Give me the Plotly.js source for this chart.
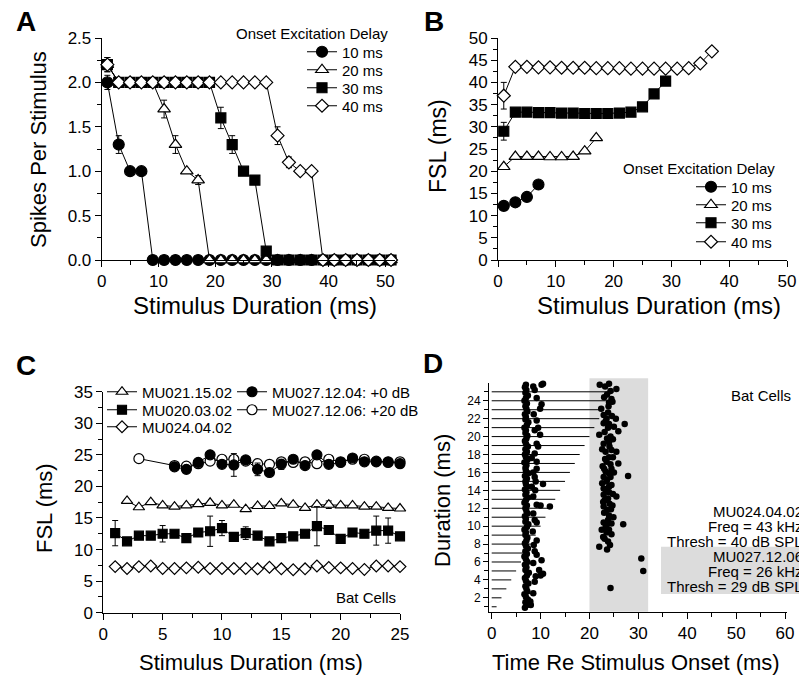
<!DOCTYPE html>
<html><head><meta charset="utf-8">
<script src="https://cdn.plot.ly/plotly-3.0.1.min.js"></script>
<style>html,body{margin:0;padding:0;background:#fff}#chart{width:799px;height:679px}</style>
</head><body><div id="chart"></div>
<script>
// ---------- Panel A: spikes per stimulus ----------
const durA = [1,3,5,7,9,11,13,15,17,19,21,23,25,27,29,31,33,35,37,39,41,43,45,47,49,51];
const spikes10 = [2.0,1.3,1.0,1.0,0,0,0,0,0,0,0,0,0,0,0,0,0,0,0,0,0,0,0,0,0,0];
const spikes20 = [2.2,2.0,2.0,2.0,2.0,1.7,1.3,1.0,0.9,0,0,0,0,0,0,0,0,0,0,0,0,0,0,0,0,0];
const spikes30 = [2.2,2.0,2.0,2.0,2.0,2.0,2.0,2.0,2.0,2.0,1.6,1.3,1.0,0.9,0.1,0,0,0,0,0,0,0,0,0,0,0];
const spikes40 = [2.2,2.0,2.0,2.0,2.0,2.0,2.0,2.0,2.0,2.0,2.0,2.0,2.0,2.0,2.0,1.4,1.1,1.0,1.0,0,0,0,0,0,0,0];
const errA10 = [0.08,0.1,0,0,0,0,0,0,0,0,0,0,0,0,0,0,0,0,0,0,0,0,0,0,0,0];
const errA20 = [0,0,0,0,0,0.1,0.1,0,0.05,0,0,0,0,0,0,0,0,0,0,0,0,0,0,0,0,0];
const errA30 = [0.08,0,0,0,0,0,0,0,0,0,0.12,0.1,0,0,0,0,0,0,0,0,0,0,0,0,0,0];
const errA40 = [0.08,0,0,0,0,0,0,0,0,0,0,0,0,0,0,0.1,0.06,0,0,0,0,0,0,0,0,0];

// ---------- Panel B: first spike latency ----------
const durB10 = [1,3,5,7];
const fsl10 = [12.2,13.0,14.2,17.0];
const durB20 = [1,3,5,7,9,11,13,15,17];
const fsl20 = [21.0,23.3,23.3,23.3,23.2,23.2,23.3,24.5,27.5];
const durB30 = [1,3,5,7,9,11,13,15,17,19,21,23,25,27,29];
const fsl30 = [29.0,33.3,33.3,33.2,33.2,33.1,33.1,33.0,33.0,33.0,33.1,33.3,34.5,37.4,40.3];
const errB30 = [2.0,0,0,0,0,0,0,0,0,0,0,0,0,0,0];
const durB40 = [1,3,5,7,9,11,13,15,17,19,21,23,25,27,29,31,33,35,37];
const fsl40 = [37.0,43.5,43.5,43.4,43.4,43.3,43.3,43.3,43.2,43.2,43.2,43.1,43.1,43.1,43.1,43.1,43.2,44.3,47.0];
const errB40 = [3.0,0,0,0,0,0,0,0,0,0,0,0,0,0,0,0,0,0,0];

// ---------- Panel C: FSL of bat cells ----------
const durC = [1,2,3,4,5,6,7,8,9,10,11,12,13,14,15,16,17,18,19,20,21,22,23,24,25];
const durC021 = [2,3,4,5,6,7,8,9,10,11,12,13,14,15,16,17,18,19,20,21,22,23,24,25];
const fslMU021 = [17.7,16.7,17.5,17.0,16.8,17.0,17.2,17.4,17.0,17.1,16.4,16.9,16.9,17.3,17.1,16.6,17.1,17.1,17.0,17.0,16.8,16.8,16.6,16.5];
const errMU021 = [0,0,0,0,0,0,0,0.2,0,0,0,0,0,0.3,0,0,0,0.6,0,0,0,0,0,0];
const fslMU020 = [12.6,11.3,12.2,12.2,12.5,12.5,11.8,12.7,12.9,13.4,12.0,12.6,12.2,11.3,11.8,12.1,12.5,13.7,13.1,11.7,12.7,12.5,13.0,13.0,12.1];
const errMU020 = [2.0,0,0,0,1.3,0,0,0,2.4,1.2,0,1.0,0,0,0,0,0,3.1,0,0,0,0,2.3,2.0,0];
const fslMU024 = [7.3,7.0,7.3,7.4,7.0,7.0,7.1,7.2,7.0,7.0,7.0,7.0,6.95,7.2,6.95,6.8,6.95,7.4,7.15,7.1,7.0,6.85,7.4,7.4,7.3];
const errMU024 = [0,0,0,0,0,0,0,0,0,0,0,0,0,0,0,0,0,0,0,0,0,0,0.5,0,0];
const durC04 = [6,7,8,9,10,11,12,13,14,15,16,17,18,19,20,21,22,23,24,25];
const fslMU027a = [23.1,22.7,23.8,25.0,23.5,23.4,24.2,22.7,22.2,23.5,24.3,23.3,25.0,23.5,23.8,24.5,23.9,23.9,23.9,23.6];
const errMU027a = [0,0,0,0,0,1.8,0,1.0,0,0.8,0,0,0,0,0,0,0,0,0,0];
const durC06 = [3,6,7,8,9,10,11,12,13,14,15,16,17,18,19,20,21,22,23,24,25];
const fslMU027b = [24.4,23.3,23.2,23.6,24.0,24.3,24.3,24.0,23.6,23.5,23.9,23.8,23.9,23.6,24.3,23.9,24.3,24.3,24.0,23.8,23.9];

// ---------- Panel D: raster ----------
const stimDur = [1,2,3,4,5,6,7,8,9,10,11,12,13,14,15,16,17,18,19,20,21,22,23,24,25];
const earlyT = [6.8,7.2,6.9,7.4,7.0,6.7,7.3,7.1,6.9,7.5,7.0,6.8,
 7.2,7.6,6.9,7.1,6.8,7.3,7.0,6.7,7.2,6.9,7.4,7.0,
 6.8,7.1,7.3,6.9,7.0,6.7,7.2,7.5,6.9,7.0,6.8,7.3,
 7.1,6.9,7.2,6.7,7.0,7.4,6.9,7.1,6.8,7.3,7.0,6.9,
 7.2,6.8,7.5,7.0,6.9,7.1,6.7,7.3,7.0,6.8,7.2,6.9,
 7.4,7.0,6.8,7.1,7.3,6.9,7.0,6.7,7.2,7.5,6.9,7.0,
 6.8,7.3,7.1,6.9,7.2,6.7,7.0,7.4,6.9,7.1,6.8,7.0];
const earlyR = [0.9,1.2,1.5,1.8,2.1,2.4,2.7,3.0,3.3,3.6,3.9,4.2,4.5,4.8,5.1,5.4,5.7,6.0,6.3,6.6,6.9,7.2,7.5,7.8,8.1,8.4,8.7,9.0,9.3,9.6,9.9,10.2,10.5,10.8,11.1,11.4,11.7,12.0,12.3,12.6,12.9,13.2,13.5,13.8,14.1,14.4,14.7,15.0,15.3,15.6,15.9,16.2,16.5,16.8,17.1,17.4,17.7,18.0,18.3,18.6,18.9,19.2,19.5,19.8,20.1,20.4,20.7,21.0,21.3,21.6,21.9,22.2,22.5,22.8,23.1,23.4,23.7,24.0,24.3,24.6,24.9,25.2,25.5,25.8];
const midT = [8.5,10.2,10.5,8.8,9.2,10.2,9.9,8.6,9.2,9.5,8.8,9.9,9.2,9.5,8.8,8.2,9.2,9.2,8.5,8.8,9.0,10.5,8.2,8.9,8.5,9.2,10.0,11.9,8.5,8.8,9.2,8.4,9.2,8.6,8.8,9.2,10.2,8.5,9.7,10.5,9.0,10.0,8.8,8.5,7.9,7.7,8.0];
const midR = [25.6,25.8,25.9,25.2,24.3,23.6,23.1,22.5,21.8,21.0,20.7,20.2,19.2,18.9,18.1,17.6,17.2,16.4,16.0,15.5,15.0,14.7,14.4,14.0,13.3,12.4,12.3,12.2,11.4,10.7,10.4,9.4,8.4,7.9,7.2,6.8,6.2,5.9,5.1,4.7,4.4,4.5,3.8,2.5,1.6,1.4,1.2];
const lateT = [22.1,24.0,25.5,23.6,24.0,24.7,22.4,23.8,25.4,23.5,22.9,24.0,27.2,22.0,23.8,25.9,24.3,24.0,22.9,24.1,23.3,25.5,24.0,24.8,23.5,25.9,22.7,24.5,23.3,24.0,27.9,22.9,24.3,23.5,24.5,22.9,24.0,22.9,25.5,23.1,24.1,22.9,24.7,23.6,24.0,23.8,22.9,24.5,26.9,23.3,24.0,23.5,22.8,23.8,22.0,23.6,30.6,31.0,24.3,
 23.2,24.3,23.0,24.5,23.9,22.9,24.6,23.3,25.0,23.1,24.8,23.6,22.6,24.5,23.2,24.3,23.0,25.0,23.6,22.6,24.0,23.4,24.8,23.8,22.8,24.4,23.0,24.9,23.5,22.5,24.5,23.1,24.2];
const lateR = [25.8,25.9,25.3,24.7,23.8,23.9,23.1,22.7,22.0,22.0,21.5,21.4,21.4,20.2,21.0,20.6,20.0,19.4,19.2,18.9,18.3,18.3,17.7,17.7,17.2,17.0,16.7,16.4,16.1,15.9,15.6,15.5,15.5,15.0,14.6,14.2,13.8,13.5,13.3,12.9,12.5,12.2,12.3,11.8,11.2,10.7,10.4,10.3,10.2,9.9,9.6,9.3,8.8,8.3,7.7,7.4,6.4,5.0,3.1,
 25.6,25.1,24.4,24.2,23.4,22.4,22.3,21.7,21.1,20.5,19.7,19.8,18.6,18.5,17.5,16.9,16.4,16.0,15.2,14.8,14.4,13.9,13.6,13.1,12.7,11.9,11.5,11.0,10.1,9.6,9.1,8.6,7.9];
const windowD = [20, 32];

// ---------- helpers ----------
const FONT = 'Liberation Sans, Arial, Helvetica, sans-serif';
const W = 799, H = 679;
const PX = x => x / W, PY = y => 1 - y / H;
const xdom = (a, b) => [PX(a), PX(b)];
const ydom = (top, bot) => [PY(bot), PY(top)];

function axis(dom, range, dtick, minorDtick, extra) {
  return Object.assign({
    domain: dom, range: range, tick0: 0, dtick: dtick, showline: true, linecolor: '#000', linewidth: 1,
    ticks: 'outside', ticklen: 6, tickwidth: 1, tickcolor: '#000', showgrid: false, zeroline: false,
    tickfont: {family: FONT, size: 17, color: '#000'}, fixedrange: true,
    minor: {ticks: 'outside', dtick: minorDtick, ticklen: 4, tickwidth: 1, tickcolor: '#000', showgrid: false}
  }, extra || {});
}

function series(x, y, err, symbol, fill, size, xa, ya, name, legendId) {
  const t = {type: 'scatter', mode: 'lines+markers', x: x, y: y, name: name, xaxis: xa, yaxis: ya,
    cliponaxis: false, line: {color: '#000', width: 1},
    marker: {symbol: symbol, size: size, color: fill, line: {color: '#000', width: 1.2}},
    legend: legendId, showlegend: true};
  if (err) t.error_y = {type: 'data', array: err, visible: true, color: '#000', thickness: 1, width: 3};
  return t;
}

function leg(textX, textY) {
  return {x: PX(textX - 40), xanchor: 'left', y: PY(textY), yanchor: 'middle',
    bgcolor: 'rgba(0,0,0,0)', borderwidth: 0, font: {family: FONT, size: 15, color: '#000'},
    itemclick: false, itemdoubleclick: false};
}

const traces = [
  series(durA, spikes10, errA10, 'circle', '#000', 11, 'x', 'y', '10 ms', 'legend'),
  series(durA, spikes20, errA20, 'triangle-up', '#fff', 11, 'x', 'y', '20 ms', 'legend2'),
  series(durA, spikes30, errA30, 'square', '#000', 10, 'x', 'y', '30 ms', 'legend3'),
  series(durA, spikes40, errA40, 'diamond', '#fff', 10, 'x', 'y', '40 ms', 'legend4'),
  series(durB10, fsl10, null, 'circle', '#000', 11, 'x2', 'y2', '10 ms', 'legend5'),
  series(durB20, fsl20, null, 'triangle-up', '#fff', 11, 'x2', 'y2', '20 ms', 'legend6'),
  series(durB30, fsl30, errB30, 'square', '#000', 10, 'x2', 'y2', '30 ms', 'legend7'),
  series(durB40, fsl40, errB40, 'diamond', '#fff', 10, 'x2', 'y2', '40 ms', 'legend8'),
  series(durC021, fslMU021, errMU021, 'triangle-up', '#fff', 10, 'x3', 'y3', 'MU021.15.02', 'legend9'),
  series(durC, fslMU020, errMU020, 'square', '#000', 9, 'x3', 'y3', 'MU020.03.02', 'legend10'),
  series(durC, fslMU024, errMU024, 'diamond', '#fff', 9, 'x3', 'y3', 'MU024.04.02', 'legend11'),
  series(durC06, fslMU027b, null, 'circle', '#fff', 10, 'x3', 'y3', 'MU027.12.06: +20 dB', 'legend13'),
  series(durC04, fslMU027a, errMU027a, 'circle', '#000', 10, 'x3', 'y3', 'MU027.12.04: +0 dB', 'legend12')
];

// stimulus lines in D
const sx = [], sy = [];
stimDur.forEach(d => { sx.push(0, d, null); sy.push(d, d, null); });
traces.push({type: 'scatter', mode: 'lines', x: sx, y: sy, xaxis: 'x4', yaxis: 'y4', showlegend: false,
  line: {color: '#000', width: 1}, hoverinfo: 'skip'});
[[earlyT, earlyR], [midT, midR], [lateT, lateR]].forEach(p => {
  traces.push({type: 'scatter', mode: 'markers', x: p[0], y: p[1], xaxis: 'x4', yaxis: 'y4', showlegend: false,
    cliponaxis: false, marker: {size: 6.5, color: '#000'}});
});

// D axis geometry (page px)
const DX0 = 489, DX1 = 786.5, DR = [-0.55, 60.3];
const dX = v => PX(DX0 + (v - DR[0]) * (DX1 - DX0) / (DR[1] - DR[0]));

function ann(text, x, y, opts) {
  return Object.assign({text: text, x: PX(x), y: PY(y), xref: 'paper', yref: 'paper', showarrow: false,
    xanchor: 'center', yanchor: 'middle', font: {family: FONT, size: 22, color: '#000'}}, opts || {});
}
const f15 = {family: FONT, size: 15, color: '#000'};
const f24 = {family: FONT, size: 24, color: '#000'};
const f23 = {family: FONT, size: 23, color: '#000'};
const bold = {family: FONT, size: 28, color: '#000', weight: 'bold'};

const layout = {
  width: W, height: H, margin: {l: 0, r: 0, t: 0, b: 0},
  paper_bgcolor: '#fff', plot_bgcolor: 'rgba(0,0,0,0)',
  font: {family: FONT, color: '#000'},
  xaxis: axis(xdom(101.7, 395), [0, 51.7], 10, 5, {anchor: 'y'}),
  yaxis: axis(ydom(38, 260), [0, 2.5], 0.5, 0.25, {anchor: 'x', tickformat: '.1f'}),
  xaxis2: axis(xdom(498, 787), [0, 50], 10, 5, {anchor: 'y2'}),
  yaxis2: axis(ydom(38, 260), [0, 50], 5, 2.5, {anchor: 'x2'}),
  xaxis3: axis(xdom(103.3, 400), [0, 25], 5, 2.5, {anchor: 'y3'}),
  yaxis3: axis(ydom(391.7, 612.7), [0, 35], 5, 2.5, {anchor: 'x3'}),
  xaxis4: axis(xdom(DX0, DX1), DR, 10, 5, {anchor: 'y4'}),
  yaxis4: axis(ydom(383.3, 611.7), [0.45, 25.95], 2, 1, {anchor: 'x4', ticklen: 5,
    tickfont: {family: FONT, size: 12, color: '#000'}}),
  legend: leg(342, 52), legend2: leg(342, 70), legend3: leg(342, 88), legend4: leg(342, 106),
  legend5: leg(731, 187), legend6: leg(731, 205), legend7: leg(731, 223), legend8: leg(731, 242),
  legend9: leg(142, 392), legend10: leg(142, 410), legend11: leg(142, 427),
  legend12: leg(272, 392), legend13: leg(272, 410),
  shapes: [
    {type: 'rect', xref: 'paper', yref: 'paper', x0: dX(windowD[0]), x1: dX(windowD[1]), y0: PY(611.7), y1: PY(378.3),
      fillcolor: '#dcdcdc', line: {width: 0}, layer: 'below'},
    {type: 'rect', xref: 'paper', yref: 'paper', x0: PX(661), x1: PX(812), y0: PY(594), y1: PY(546.7),
      fillcolor: '#dcdcdc', line: {width: 0}, layer: 'below'}
  ],
  annotations: [
    ann('<b>A</b>', 26, 22, {font: bold}),
    ann('<b>B</b>', 434, 21, {font: bold}),
    ann('<b>C</b>', 26, 365, {font: bold}),
    ann('<b>D</b>', 433, 363, {font: bold}),
    ann('Stimulus Duration (ms)', 255, 306, {font: f24}),
    ann('Spikes Per Stimulus', 38, 150, {textangle: -90}),
    ann('Stimulus Duration (ms)', 659, 306, {font: f24}),
    ann('FSL (ms)', 438, 146, {textangle: -90, font: f23}),
    ann('Stimulus Duration (ms)', 251, 662),
    ann('FSL (ms)', 44, 508, {textangle: -90}),
    ann('Time Re Stimulus Onset (ms)', 636, 662),
    ann('Duration (ms)', 442, 501, {textangle: -90}),
    ann('Onset Excitation Delay', 390, 33, {xanchor: 'right', font: f15}),
    ann('Onset Excitation Delay', 777, 168, {xanchor: 'right', font: f15}),
    ann('Bat Cells', 398, 597, {xanchor: 'right', font: f15}),
    ann('Bat Cells', 793, 395, {xanchor: 'right', font: f15}),
    ann('MU024.04.02', 805, 511.7, {xanchor: 'right', font: f15}),
    ann('Freq = 43 kHz', 805, 526.7, {xanchor: 'right', font: f15}),
    ann('Thresh = 40 dB SPL', 805, 541.7, {xanchor: 'right', font: f15}),
    ann('MU027.12.06', 805, 556.7, {xanchor: 'right', font: f15}),
    ann('Freq = 26 kHz', 805, 571.7, {xanchor: 'right', font: f15}),
    ann('Thresh = 29 dB SPL', 805, 586.7, {xanchor: 'right', font: f15})
  ]
};

Plotly.newPlot('chart', traces, layout, {staticPlot: true, displayModeBar: false});
</script>
</body></html>
